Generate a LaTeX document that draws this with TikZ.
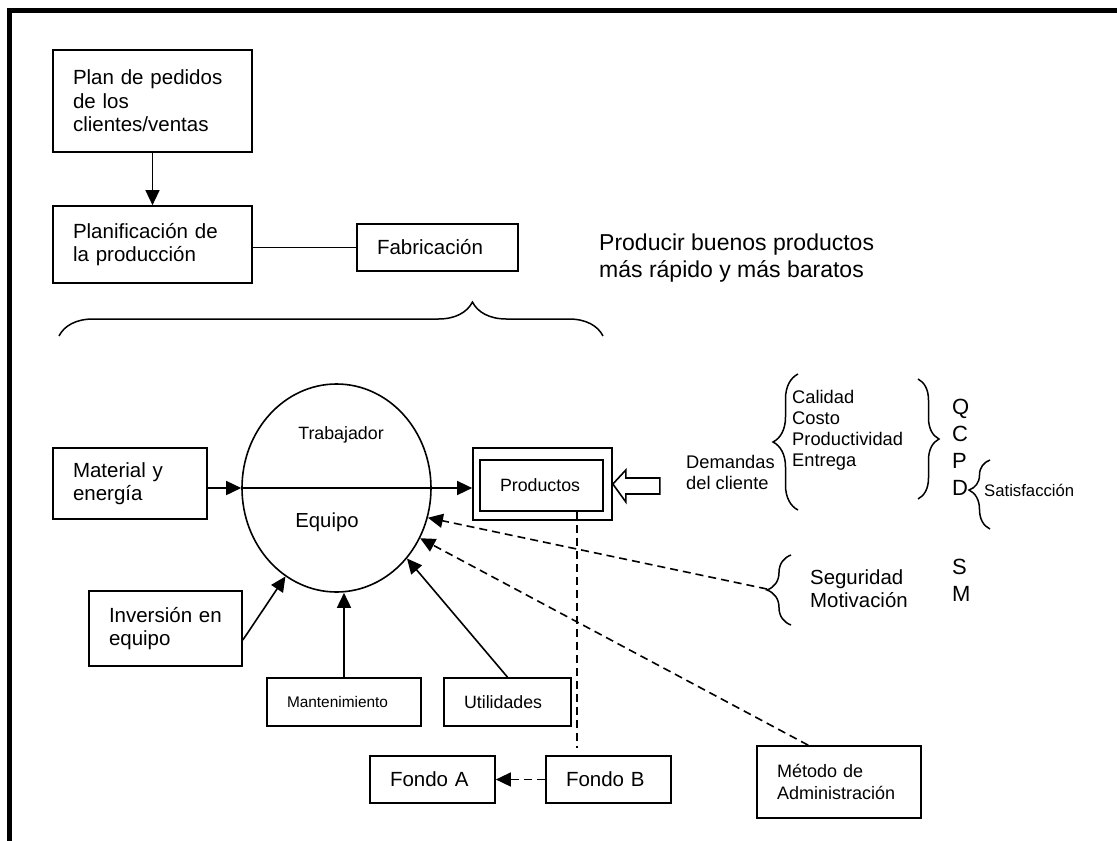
\documentclass[tikz,border=0pt]{standalone}
\usepackage{fontspec}
\setmainfont{Liberation Sans}
\usetikzlibrary{arrows.meta,decorations.pathreplacing,calc,shapes.geometric}
\newcommand\setfs[2]{\fontsize{#1}{#2}\selectfont}
\begin{document}
\begin{tikzpicture}[x=1pt,y=-1pt,
  conn/.style={line width=1.6pt},
  arr/.style={conn,-{Triangle[length=15pt,width=14pt]}},
  dline/.style={conn,dash pattern=on 8pt off 5pt},
  darr/.style={arr,dash pattern=on 8pt off 5pt},
  bx/.style={draw,line width=1.7pt,rectangle,align=left,inner xsep=20pt,inner ysep=0pt,font=\setfs{20.5}{23.5}},
  lbl/.style={anchor=west,align=left,inner sep=0pt},
  brc/.style={decorate,decoration={brace,amplitude=#1},line width=1.5pt}]
\useasboundingbox (0,0) rectangle (1117,841);

% page frame (top and left edges only)
\draw[line width=5pt] (9.5,845) -- (9.5,10.5) -- (1120,10.5);

% planning chain
\node[bx,text width=159pt,minimum height=102pt] (plan1) at (152.5,101) {Plan de pedidos\\de los\\clientes/ventas};
\node[bx,text width=159pt,minimum height=77pt] (plan2) at (152.5,244.5) {Planificación de\\la producción};
\node[bx,text width=121pt,minimum height=47pt] (fab) at (437.5,247.5) {Fabricación};
\draw[arr] (plan1) -- (plan2);
\draw[conn] (plan2.east |- fab.west) -- (fab.west);

\node[lbl,font=\setfs{23}{27}] (goal) at (599,258.5) {Producir buenos productos\\más rápido y más baratos};

% overall brace
\draw[brc=34pt,decoration={aspect=0.76}] (59,336) -- (603,336);

% process
\node[draw,ellipse,conn,inner sep=0pt,minimum width=189pt,minimum height=208pt] (ell) at (336.5,488) {};
\node[font=\setfs{17.8}{20}] (trab) at (341,435) {Trabajador};
\node[font=\setfs{20.3}{23}] (equ) at (327,522) {Equipo};

\node[bx,text width=114pt,minimum height=71pt] (mat) at (130,483.5) {Material y\\energía};
\node[draw,line width=1.7pt,rectangle,inner sep=0pt,minimum width=139pt,minimum height=72pt] (prodout) at (542.5,484) {};
\node[bx,text width=83pt,minimum height=51pt,font=\setfs{17.8}{20}] (prodin) at (541.5,485.5) {Productos};

\draw[arr] (mat.east |- ell.west) -- (ell.west);
\draw[arr] (ell.west) -- (prodout.west |- ell.west);

% customer demand arrow
\draw[conn] (prodout.east) -- ++(13,-14) -- ++(0,8) -- ++(34,0) -- ++(0,16) -- ++(-34,0) -- ++(0,8) -- cycle;

\node[lbl,font=\setfs{18.3}{21}] (dem) at (686,472.5) {Demandas\\del cliente};
\draw[brc=25pt] (798,510) -- (798,374);
\node[lbl,font=\setfs{18.3}{21}] (qual) at (792,430.5) {Calidad\\Costo\\Productividad\\Entrega};
\draw[brc=21pt] (918,379) -- (918,499);
\node[lbl,font=\setfs{22}{27}] (qcpd) at (952,447.5) {Q\\C\\P\\D};
\draw[brc=21pt,decoration={aspect=0.565}] (990,529) -- (990,460);
\node[lbl,font=\setfs{16.7}{20}] (sat) at (984,490) {Satisfacción};

\draw[brc=24pt] (791,625) -- (791,555);
\coordinate (segtip) at (767,589);
\node[lbl,font=\setfs{20.4}{23}] (seg) at (810,588.5) {Seguridad\\Motivación};
\node[lbl,font=\setfs{22}{27}] (sm) at (952,580.5) {S\\M};

% inputs to the process
\node[bx,text width=113pt,minimum height=75pt] (inv) at (165.5,628.5) {\mbox{Inversión en}\\equipo};
\node[bx,text width=114pt,minimum height=48pt,font=\setfs{15.4}{18}] (mant) at (344,702) {Mantenimiento};
\node[bx,text width=87pt,minimum height=48pt,font=\setfs{17.8}{20}] (util) at (507.5,702) {Utilidades};
\node[bx,text width=124pt,minimum height=72pt,font=\setfs{18}{22}] (met) at (839,782) {Método de\\Administración};
\node[bx,text width=85pt,minimum height=47pt] (fa) at (432.5,779.5) {Fondo A};
\node[bx,text width=85pt,minimum height=47pt] (fb) at (608.5,779.5) {Fondo B};

\draw[arr] ($(inv.east)+(0,11.5)$) -- (ell.240.5);
\draw[arr] (mant.north) -- (mant.north |- ell.south);
\draw[arr] (util.north) -- (ell.-45);
\draw[darr] (segtip) -- (ell.-18.5);
\draw[darr] ($(met.north west)+(52,0)$) -- (ell.-31);

\coordinate (vdrop) at (577,748);
\draw[dline] (prodin.south -| vdrop) -- (vdrop);
\draw[darr] (fb.west) -- (fa.east);
\end{tikzpicture}
\end{document}
